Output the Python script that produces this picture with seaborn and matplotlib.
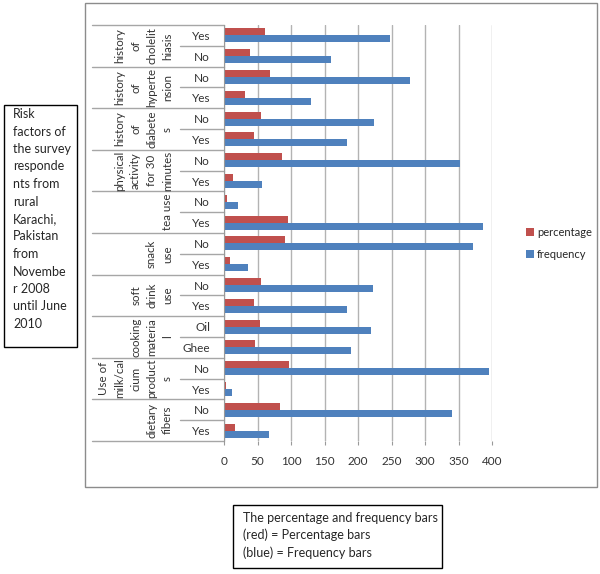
import pandas as pd
import seaborn as sns
import matplotlib.pyplot as plt
from matplotlib.patches import Rectangle

# Row groups (rotated labels) and their answers, top to bottom
groups = ['history\nof\ncholelit\nhiasis', 'history\nof\nhyperte\nnsion', 'history\nof\ndiabete\ns',
          'physical\nactivity\nfor 30\nminutes', 'tea use', 'snack\nuse', 'soft\ndrink\nuse',
          'cooking\nmateria\nl', 'Use of\nmilk/cal\ncium\nproduct\ns', 'dietary\nfibers']
answers = ['Yes', 'No', 'No', 'Yes', 'No', 'Yes', 'No', 'Yes', 'No', 'Yes',
           'No', 'Yes', 'No', 'Yes', 'Oil', 'Ghee', 'No', 'Yes', 'No', 'Yes']
percentage = [61, 39, 68, 32, 55, 45, 86, 14, 5, 95, 91, 9, 55, 45, 54, 46, 97, 3, 83, 17]
frequency = [248, 160, 278, 130, 224, 184, 352, 57, 21, 387, 372, 36, 223, 184, 219, 190, 396, 12, 340, 67]
x_ticks = [0, 50, 100, 150, 200, 250, 300, 350, 400]

rows = [str(i) for i in range(len(answers))]
df = pd.DataFrame({
    'row': rows * 2,
    'value': percentage + frequency,
    'series': ['percentage'] * len(rows) + ['frequency'] * len(rows),
})

sns.set_style('white')
plt.rcParams['font.family'] = ['Lato', 'DejaVu Sans']

fig = plt.figure(figsize=(6, 5.74), dpi=100)
ax = fig.add_axes([224 / 600, 1 - 441 / 574, 268 / 600, 416 / 574])

sns.barplot(data=df, x='value', y='row', hue='series', order=rows, orient='h',
            palette={'percentage': '#C0504D', 'frequency': '#4F81BD'}, saturation=1,
            width=0.68, gap=0, edgecolor='none', ax=ax)

ax.set_xlim(0, 400)
ax.set_ylim(19.5, -0.5)
ax.set_xticks(x_ticks)
ax.set_xticklabels([str(t) for t in x_ticks], fontsize=8.5, color='#333333')
ax.set_yticks(range(len(rows)))
ax.set_yticklabels(answers, fontsize=8.5, color='#333333')
ax.tick_params(axis='y', length=0, pad=10)
ax.tick_params(axis='x', length=3, color='#999999', pad=8, bottom=True)
ax.set_xlabel('')
ax.set_ylabel('')
ax.xaxis.grid(True, color='#b3b3b3', linewidth=1)
ax.set_axisbelow(True)
for s in ['top', 'right', 'bottom']:
    ax.spines[s].set_visible(False)
ax.spines['left'].set_color('#999999')

# label table lines
tr = ax.get_yaxis_transform()
for g in range(len(groups) + 1):
    ax.plot([-0.4925, 0], [2 * g - 0.5] * 2, color='#a6a6a6', lw=1, transform=tr, clip_on=False)
for g in range(len(groups)):
    ax.plot([-0.164, 0], [2 * g + 0.5] * 2, color='#a6a6a6', lw=1, transform=tr, clip_on=False)
    ax.text(-0.19, 2 * g + 0.5, groups[g], rotation=90, ha='right', va='center',
            multialignment='center', fontsize=8.3, color='#333333', linespacing=1.55,
            transform=tr)

sns.move_legend(ax, loc='center left', bbox_to_anchor=(1.09, 0.475), frameon=False, title=None,
                fontsize=8, handlelength=0.7, handleheight=0.7, handletextpad=0.3, labelspacing=1.0)

# chart frame and text boxes
fig.patches.append(Rectangle((85 / 600, 1 - 487 / 574), 512 / 600, 484 / 574, fill=False,
                             edgecolor='#8c8c8c', lw=1, transform=fig.transFigure))
fig.patches.append(Rectangle((4 / 600, 1 - 347 / 574), 73 / 600, 242 / 574, fill=False,
                             edgecolor='black', lw=1, transform=fig.transFigure))
fig.text(13 / 600, 1 - 108 / 574,
         'Risk\nfactors of\nthe survey\nresponde\nnts from\nrural\nKarachi,\nPakistan\nfrom\n'
         'Novembe\nr 2008\nuntil June\n2010',
         fontsize=9, va='top', ha='left', linespacing=1.55)
fig.patches.append(Rectangle((233 / 600, 1 - 568 / 574), 209 / 600, 63 / 574, fill=False,
                             edgecolor='black', lw=1, transform=fig.transFigure))
fig.text(243 / 600, 1 - 512 / 574,
         'The percentage and frequency bars\n(red) = Percentage bars\n(blue) = Frequency bars',
         fontsize=9, va='top', ha='left', linespacing=1.45)

plt.savefig('out.png', dpi=100)
